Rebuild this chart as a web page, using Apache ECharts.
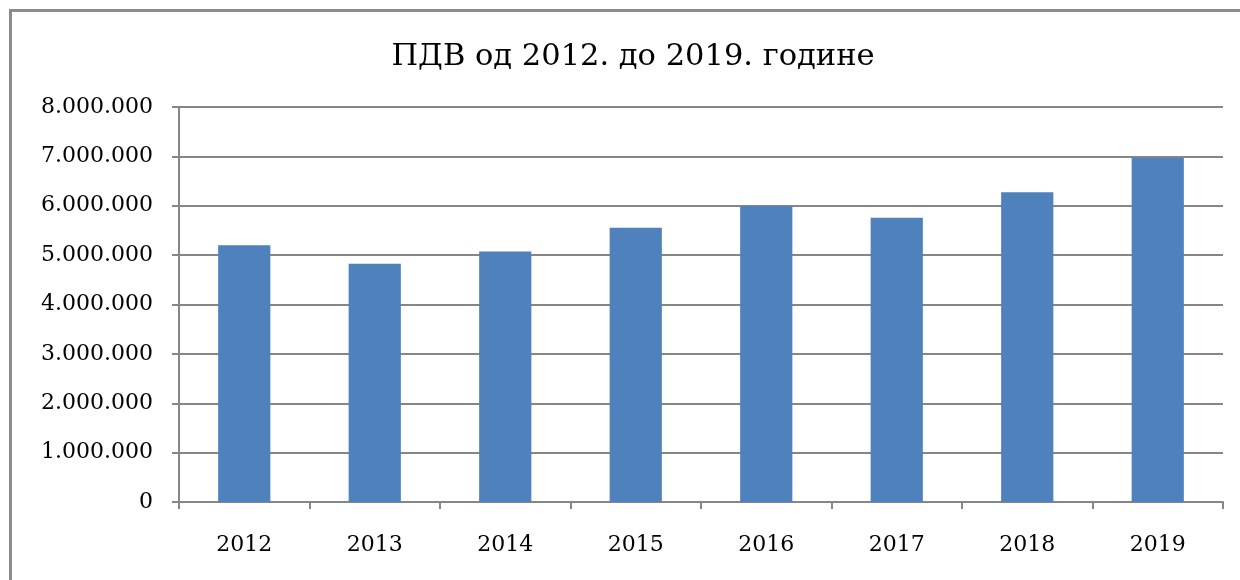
<!DOCTYPE html>
<html><head><meta charset="utf-8">
<script src="https://cdn.jsdelivr.net/npm/echarts@6/dist/echarts.min.js"></script>
<style>html,body{margin:0;padding:0;background:#fff;overflow:hidden}#c{width:1240px;height:580px}
#frame{position:absolute;left:9px;top:9px;width:1400px;height:800px;border-left:3px solid #8c8c8c;border-top:3px solid #8c8c8c;pointer-events:none}</style>
</head><body><div id="c"></div><div id="frame"></div>
<script>
const titleText = 'ПДВ од 2012. до 2019. године';
const categories = ['2012','2013','2014','2015','2016','2017','2018','2019'];
const values = [5200000, 4825000, 5075000, 5555000, 5995000, 5755000, 6275000, 6970000];
const yMin = 0, yMax = 8000000, yStep = 1000000;

function fmt(v){ return String(v).replace(/\B(?=(\d{3})+(?!\d))/g, '.'); }

const chart = echarts.init(document.getElementById('c'), null, {renderer:'canvas'});
const font = '"DejaVu Serif", serif';
chart.setOption({
  animation:false,
  backgroundColor:'#fff',
  title:{text:titleText, left:628, top:37, textAlign:'center',
    textStyle:{fontFamily:font, fontSize:30.5, fontWeight:'normal', color:'#000'}},
  grid:{left:179, right:17, top:107, bottom:78, containLabel:false},
  xAxis:{type:'category', data:categories,
    axisLine:{lineStyle:{color:'#868686', width:2}},
    axisTick:{show:true, length:7, lineStyle:{color:'#868686', width:2}, alignWithLabel:false},
    axisLabel:{fontFamily:font, fontSize:22, color:'#000', margin:32}},
  yAxis:{type:'value', min:yMin, max:yMax, interval:yStep,
    axisLine:{show:true, lineStyle:{color:'#868686', width:2}},
    axisTick:{show:true, length:7, lineStyle:{color:'#868686', width:2}},
    splitLine:{lineStyle:{color:'#868686', width:2}},
    axisLabel:{fontFamily:font, fontSize:22, color:'#000', margin:26, formatter:fmt}},
  series:[{type:'bar', data:values, barWidth:'40%', itemStyle:{color:'#4F81BD'}}]
});
</script></body></html>
